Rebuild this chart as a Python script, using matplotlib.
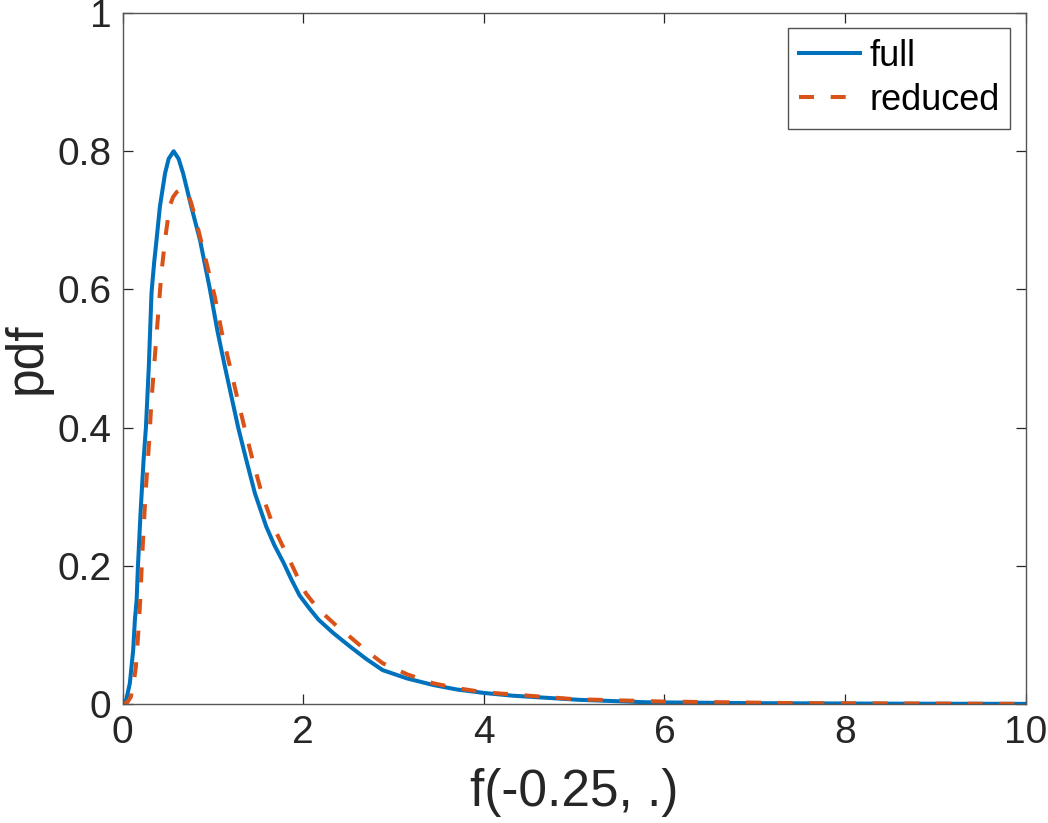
import matplotlib
matplotlib.use("Agg")
import matplotlib.pyplot as plt

plt.rcParams['font.family'] = ['Liberation Sans', 'DejaVu Sans']
plt.rcParams['lines.scale_dashes'] = False

# full model pdf
x_full = [0, 0.04, 0.08, 0.117, 0.136, 0.155, 0.17, 0.2, 0.232, 0.258, 0.29, 0.32,
          0.35, 0.376, 0.413, 0.47, 0.51, 0.565, 0.62, 0.67, 0.76, 0.856, 0.967,
          1.05, 1.133, 1.21, 1.28, 1.37, 1.465, 1.59, 1.68, 1.78, 1.87, 1.96,
          2.07, 2.17, 2.33, 2.52, 2.7, 2.88, 3.15, 3.44, 3.7, 4.0, 4.32,
          5.06, 5.8, 7.0, 8.5, 10.0]
y_full = [0, 0.006, 0.03, 0.078, 0.122, 0.15, 0.2, 0.28, 0.353, 0.4, 0.488, 0.595,
          0.64, 0.672, 0.72, 0.768, 0.789, 0.8, 0.789, 0.768, 0.72, 0.672, 0.6,
          0.54, 0.488, 0.442, 0.4, 0.353, 0.305, 0.257, 0.23, 0.205, 0.18, 0.157,
          0.138, 0.122, 0.103, 0.083, 0.065, 0.049, 0.037, 0.0275, 0.021, 0.016, 0.012,
          0.006, 0.0025, 0.0012, 0.0005, 0.0002]

# reduced model pdf
x_red = [0, 0.05, 0.09, 0.12, 0.147, 0.173, 0.195, 0.212, 0.228, 0.254, 0.295, 0.32,
         0.376, 0.43, 0.47, 0.52, 0.56, 0.6, 0.65, 0.71, 0.76, 0.82, 0.93, 1.02,
         1.1, 1.19, 1.27, 1.35, 1.44, 1.54, 1.67, 1.76, 1.85, 1.94, 2.03, 2.12,
         2.22, 2.37, 2.52, 2.7, 2.88, 3.15, 3.44, 3.7, 4.0, 5.0, 6.0, 7.5, 10.0]
y_red = [0, 0.002, 0.01, 0.028, 0.054, 0.102, 0.15, 0.2, 0.242, 0.305, 0.382, 0.44,
         0.535, 0.624, 0.672, 0.72, 0.734, 0.741, 0.745, 0.743, 0.725, 0.696, 0.638, 0.59,
         0.537, 0.488, 0.443, 0.4, 0.353, 0.305, 0.257, 0.232, 0.208, 0.183, 0.16, 0.145,
         0.131, 0.113, 0.097, 0.077, 0.059, 0.043, 0.030, 0.023, 0.017, 0.007, 0.0035,
         0.0012, 0.0002]

x_ticks = [0, 2, 4, 6, 8, 10]
x_ticklabels = ['0', '2', '4', '6', '8', '10']
y_ticks = [0, 0.2, 0.4, 0.6, 0.8, 1.0]
y_ticklabels = ['0', '0.2', '0.4', '0.6', '0.8', '1']

fig = plt.figure(figsize=(10.48, 8.23), dpi=100)
ax = fig.add_axes([0.117, 0.1446, 0.8616, 0.8396])

ax.plot(x_full, y_full, color='#0072BD', lw=2.9, label='full',
        solid_joinstyle='round')
ax.plot(x_red, y_red, color='#D95319', lw=2.9, dashes=(10.8, 12),
        label='reduced', dash_joinstyle='round')

ax.set_xlim(0, 10)
ax.set_ylim(0, 1)
ax.set_xticks(x_ticks)
ax.set_xticklabels(x_ticklabels)
ax.set_yticks(y_ticks)
ax.set_yticklabels(y_ticklabels)

axcol = '#262626'
for s in ax.spines.values():
    s.set_color('#555555')
    s.set_linewidth(1.0)
ax.tick_params(direction='in', length=7, width=0.9, color=axcol, labelcolor=axcol,
               labelsize=28, top=True, right=True, pad=8)

ax.set_xlabel('f(-0.25, .)', fontsize=37, color=axcol, labelpad=12)
ax.set_ylabel('pdf', fontsize=37, color=axcol, labelpad=4)

leg = ax.legend(loc='upper right', fontsize=26, frameon=True, fancybox=False,
                edgecolor=axcol, handlelength=1.7, handletextpad=0.25,
                borderpad=0.3, labelspacing=0.25, borderaxespad=0.42)
leg.get_frame().set_linewidth(1.0)

fig.savefig('out.png', dpi=100)
